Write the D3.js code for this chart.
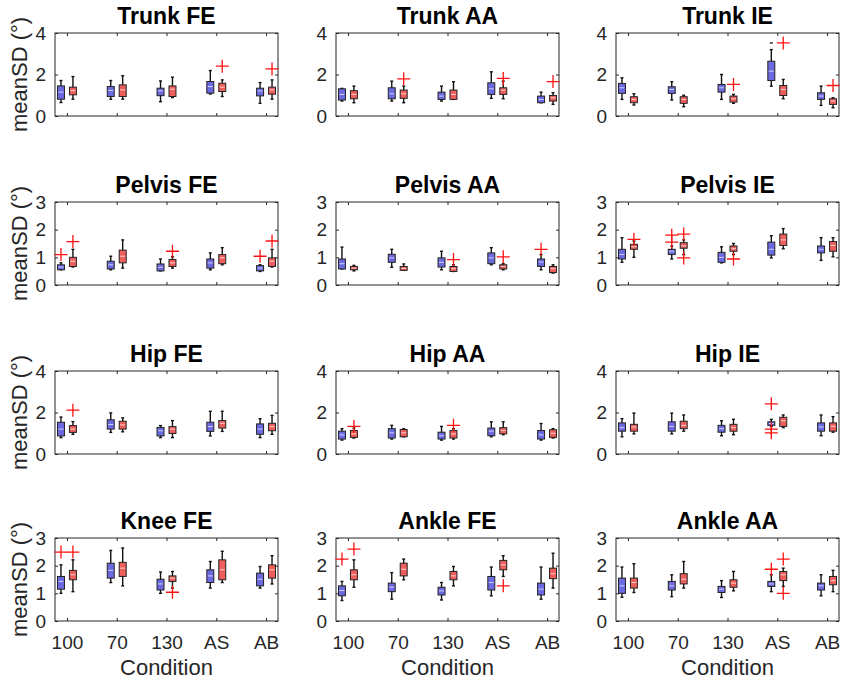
<!DOCTYPE html>
<html>
<head>
<meta charset="utf-8">
<script src="https://cdn.jsdelivr.net/npm/d3@7"></script>
<style>
  body { margin: 0; background: #fff; }
  svg { display: block; font-family: Arial, "Liberation Sans", Helvetica, sans-serif; }
</style>
</head>
<body>
<svg id="chart" width="843" height="685"></svg>
<script>
// Conditions on the x axis
const conditions = ["100", "70", "130", "AS", "AB"];

const panelTitles = [
  "Trunk FE", "Trunk AA", "Trunk IE",
  "Pelvis FE", "Pelvis AA", "Pelvis IE",
  "Hip FE", "Hip AA", "Hip IE",
  "Knee FE", "Ankle FE", "Ankle AA"
];
const panelYMax = [4, 4, 4, 3, 3, 3, 4, 4, 4, 3, 3, 3];
const yTicks4 = [0, 2, 4];
const yTicks3 = [0, 1, 2, 3];

// Box statistics, ordered 100 (blue, red), 70 (blue, red), 130, AS, AB.
// Each row: [lower whisker, Q1, median, Q3, upper whisker]
const trunkFE = [
  [0.65, 0.81, 1.15, 1.45, 1.71], [0.81, 1.02, 1.23, 1.39, 1.90],
  [0.81, 0.94, 1.23, 1.42, 1.71], [0.81, 0.94, 1.26, 1.50, 1.94],
  [0.69, 0.98, 1.21, 1.34, 1.69], [0.89, 0.94, 1.29, 1.45, 1.87],
  [1.06, 1.10, 1.42, 1.66, 2.19], [0.94, 1.18, 1.39, 1.58, 1.74],
  [0.61, 0.97, 1.21, 1.34, 1.61], [0.81, 1.05, 1.26, 1.39, 1.74]
];
const trunkAA = [
  [0.72, 0.77, 1.04, 1.31, 1.33], [0.64, 0.83, 1.04, 1.22, 1.44],
  [0.72, 0.83, 1.07, 1.36, 1.68], [0.64, 0.85, 1.07, 1.25, 1.44],
  [0.72, 0.80, 0.96, 1.15, 1.44], [0.80, 0.80, 1.04, 1.25, 1.65],
  [0.85, 1.04, 1.31, 1.60, 2.13], [0.83, 1.04, 1.25, 1.36, 1.68],
  [0.64, 0.64, 0.80, 0.96, 1.15], [0.56, 0.72, 0.88, 0.99, 1.12]
];
const trunkIE = [
  [0.80, 1.09, 1.36, 1.57, 1.84], [0.53, 0.64, 0.80, 0.93, 1.07],
  [0.77, 1.09, 1.28, 1.41, 1.65], [0.45, 0.61, 0.80, 0.93, 1.00],
  [0.80, 1.15, 1.36, 1.52, 2.00], [0.61, 0.67, 0.83, 0.96, 1.04],
  [1.44, 1.71, 2.16, 2.64, 3.20], [0.83, 0.99, 1.28, 1.47, 1.76],
  [0.51, 0.80, 0.96, 1.12, 1.44], [0.40, 0.56, 0.72, 0.83, 0.88]
];
const pelvisFE = [
  [0.55, 0.55, 0.65, 0.73, 0.80], [0.65, 0.67, 0.86, 1.00, 1.29],
  [0.55, 0.58, 0.73, 0.86, 1.04], [0.61, 0.80, 1.04, 1.26, 1.63],
  [0.51, 0.51, 0.64, 0.76, 0.94], [0.61, 0.67, 0.80, 0.92, 1.02],
  [0.55, 0.61, 0.80, 0.94, 1.16], [0.73, 0.77, 0.98, 1.10, 1.35],
  [0.49, 0.51, 0.61, 0.70, 0.73], [0.65, 0.67, 0.86, 0.98, 1.29]
];
const pelvisAA = [
  [0.58, 0.58, 0.77, 0.94, 1.37], [0.51, 0.55, 0.61, 0.67, 0.71],
  [0.64, 0.82, 0.98, 1.11, 1.29], [0.53, 0.53, 0.60, 0.67, 0.76],
  [0.55, 0.65, 0.82, 0.98, 1.22], [0.49, 0.49, 0.59, 0.67, 0.73],
  [0.73, 0.77, 0.98, 1.16, 1.35], [0.55, 0.58, 0.67, 0.73, 0.77],
  [0.55, 0.67, 0.83, 0.94, 1.10], [0.43, 0.45, 0.59, 0.67, 0.73]
];
const pelvisIE = [
  [0.82, 0.94, 1.10, 1.29, 1.71], [1.00, 1.29, 1.38, 1.47, 1.59],
  [0.94, 1.10, 1.22, 1.29, 1.41], [1.10, 1.33, 1.41, 1.53, 1.63],
  [0.80, 0.82, 1.00, 1.18, 1.38], [1.10, 1.22, 1.31, 1.41, 1.50],
  [0.98, 1.08, 1.29, 1.55, 1.78], [1.31, 1.43, 1.63, 1.84, 2.04],
  [0.89, 1.16, 1.29, 1.41, 1.71], [1.02, 1.22, 1.43, 1.57, 1.71]
];
const hipFE = [
  [0.79, 0.87, 1.20, 1.53, 1.78], [0.95, 1.04, 1.20, 1.37, 1.56],
  [1.04, 1.20, 1.42, 1.65, 1.98], [1.07, 1.20, 1.40, 1.58, 1.74],
  [0.79, 0.87, 1.12, 1.28, 1.37], [0.79, 0.99, 1.20, 1.32, 1.61],
  [0.87, 1.09, 1.32, 1.53, 2.06], [1.09, 1.25, 1.48, 1.61, 2.06],
  [0.79, 0.95, 1.20, 1.45, 1.70], [0.95, 1.12, 1.32, 1.48, 1.86]
];
const hipAA = [
  [0.67, 0.72, 0.92, 1.10, 1.22], [0.77, 0.80, 0.97, 1.13, 1.25],
  [0.72, 0.77, 1.02, 1.22, 1.38], [0.83, 0.83, 1.02, 1.18, 1.22],
  [0.67, 0.72, 0.88, 1.05, 1.33], [0.72, 0.77, 0.97, 1.13, 1.22],
  [0.83, 0.88, 1.10, 1.25, 1.55], [0.93, 0.97, 1.13, 1.27, 1.55],
  [0.67, 0.72, 0.92, 1.13, 1.47], [0.77, 0.80, 1.00, 1.17, 1.22]
];
const hipIE = [
  [0.83, 1.10, 1.27, 1.50, 1.70], [0.97, 1.10, 1.30, 1.43, 1.97],
  [0.97, 1.10, 1.33, 1.55, 1.97], [1.10, 1.22, 1.38, 1.58, 1.88],
  [0.88, 1.05, 1.22, 1.38, 1.60], [0.93, 1.10, 1.27, 1.43, 1.67],
  [1.33, 1.38, 1.47, 1.55, 1.67], [1.27, 1.33, 1.60, 1.77, 1.88],
  [0.88, 1.10, 1.30, 1.50, 1.88], [1.05, 1.10, 1.33, 1.50, 1.80]
];
const kneeFE = [
  [1.00, 1.15, 1.43, 1.61, 2.03], [1.06, 1.49, 1.67, 1.83, 2.21],
  [1.39, 1.55, 1.83, 2.09, 2.55], [1.27, 1.61, 1.91, 2.12, 2.64],
  [1.00, 1.12, 1.34, 1.51, 1.77], [1.19, 1.43, 1.55, 1.63, 1.79],
  [1.19, 1.39, 1.63, 1.85, 2.15], [1.39, 1.49, 1.85, 2.21, 2.52],
  [1.19, 1.27, 1.51, 1.73, 1.97], [1.34, 1.55, 1.85, 2.03, 2.36]
];
const ankleFE = [
  [0.74, 0.91, 1.10, 1.27, 1.43], [1.22, 1.49, 1.67, 1.85, 2.21],
  [0.79, 1.06, 1.22, 1.37, 1.75], [1.49, 1.63, 1.87, 2.09, 2.24],
  [0.76, 0.94, 1.09, 1.22, 1.39], [1.27, 1.49, 1.63, 1.79, 1.97],
  [0.91, 1.12, 1.39, 1.61, 1.95], [1.61, 1.85, 2.03, 2.19, 2.36],
  [0.79, 0.94, 1.15, 1.37, 1.95], [1.19, 1.53, 1.71, 1.91, 2.45]
];
const ankleAA = [
  [0.86, 1.00, 1.27, 1.55, 1.95], [1.03, 1.19, 1.39, 1.55, 2.07],
  [0.88, 1.12, 1.27, 1.43, 1.67], [1.19, 1.34, 1.51, 1.71, 2.15],
  [0.85, 1.03, 1.15, 1.25, 1.46], [1.09, 1.22, 1.37, 1.49, 1.79],
  [1.06, 1.25, 1.34, 1.43, 1.67], [1.25, 1.46, 1.67, 1.79, 1.91],
  [0.91, 1.12, 1.27, 1.37, 1.67], [1.06, 1.31, 1.46, 1.61, 1.83]
];

// Outliers: [condition index, group (0 blue, 1 red), value, symbol]
const trunkFEOut = [[3, 1, 2.40], [4, 1, 2.27]];
const trunkAAOut = [[1, 1, 1.79], [3, 1, 1.81], [4, 1, 1.66]];
const trunkIEOut = [[2, 1, 1.52], [3, 0, 3.52, "-"], [3, 1, 3.52], [4, 1, 1.47]];
const pelvisFEOut = [[0, 0, 1.10], [0, 1, 1.57], [2, 1, 1.22], [4, 0, 1.04], [4, 1, 1.59]];
const pelvisAAOut = [[2, 1, 0.92], [3, 1, 1.02], [4, 0, 1.29]];
const pelvisIEOut = [[0, 1, 1.65], [1, 0, 1.80], [1, 0, 1.55], [1, 1, 1.84], [1, 1, 0.98], [2, 1, 0.94]];
const hipFEOut = [[0, 1, 2.11]];
const hipAAOut = [[0, 1, 1.33], [2, 1, 1.38]];
const hipIEOut = [[3, 0, 2.42], [3, 0, 1.20], [3, 0, 1.02]];
const kneeFEOut = [[0, 0, 2.49], [0, 1, 2.49], [2, 1, 1.04]];
const ankleFEOut = [[0, 0, 2.24], [0, 1, 2.60], [3, 1, 1.27]];
const ankleAAOut = [[3, 0, 1.87], [3, 1, 2.24], [3, 1, 1.00]];

const panelBoxes = [trunkFE, trunkAA, trunkIE, pelvisFE, pelvisAA, pelvisIE,
                    hipFE, hipAA, hipIE, kneeFE, ankleFE, ankleAA];
const panelOutliers = [trunkFEOut, trunkAAOut, trunkIEOut, pelvisFEOut, pelvisAAOut, pelvisIEOut,
                       hipFEOut, hipAAOut, hipIEOut, kneeFEOut, ankleFEOut, ankleAAOut];

// Layout
const colLeft = [55, 336, 616];
const rowTop = [33, 202, 371, 538];
const axW = 223, axH = 83;
const groupOffset = [-0.12, 0.12];
const boxHalf = 0.07;
const fills = ["#6c6ae0", "#ee5f5c"];
const medians = ["#cfd0ff", "#ffd2d0"];
const axisColor = "#262626";

const svg = d3.select("#chart");

panelTitles.forEach((title, p) => {
  const r = Math.floor(p / 3), c = p % 3;
  const left = colLeft[c], top = rowTop[r];
  const yMax = panelYMax[p];
  const ticks = yMax === 4 ? yTicks4 : yTicks3;

  const x = d3.scaleLinear().domain([0.76, 5.24]).range([left, left + axW]);
  const y = d3.scaleLinear().domain([0, yMax]).range([top + axH, top]);

  const g = svg.append("g");

  // Frame
  g.append("rect")
    .attr("x", left).attr("y", top).attr("width", axW).attr("height", axH)
    .attr("fill", "#fff").attr("stroke", axisColor).attr("stroke-width", 1);

  // Y ticks (left + right, inward) with labels on the left
  const yAxisL = d3.axisLeft(y).tickValues(ticks).tickSize(-3).tickPadding(9).tickFormat(d3.format("d"));
  const yAxisR = d3.axisRight(y).tickValues(ticks).tickSize(-3).tickFormat("");
  const gl = g.append("g").attr("transform", `translate(${left},0)`).call(yAxisL);
  const gr = g.append("g").attr("transform", `translate(${left + axW},0)`).call(yAxisR);

  // X ticks (bottom + top, inward); labels only on the bottom row
  const xAxisB = d3.axisBottom(x).tickValues([1, 2, 3, 4, 5]).tickSize(-3).tickPadding(15)
    .tickFormat(r === 3 ? (d => conditions[d - 1]) : "");
  const xAxisT = d3.axisTop(x).tickValues([1, 2, 3, 4, 5]).tickSize(-3).tickFormat("");
  const gb = g.append("g").attr("transform", `translate(0,${top + axH})`).call(xAxisB);
  const gt = g.append("g").attr("transform", `translate(0,${top})`).call(xAxisT);

  [gl, gr, gb, gt].forEach(a => {
    a.select(".domain").remove();
    a.selectAll(".tick line").attr("stroke", axisColor);
    a.selectAll(".tick text").attr("fill", axisColor)
      .style("font-size", "19px").style("font-family", "Arial, 'Liberation Sans', sans-serif");
  });

  // Boxes
  const boxes = panelBoxes[p].map((s, i) => ({
    cond: Math.floor(i / 2), grp: i % 2, lo: s[0], q1: s[1], med: s[2], q3: s[3], hi: s[4]
  }));
  const bg = g.selectAll("g.box").data(boxes).join("g").attr("class", "box");
  const pos = d => d.cond + 1 + groupOffset[d.grp];

  bg.append("line")
    .attr("x1", d => x(pos(d))).attr("x2", d => x(pos(d)))
    .attr("y1", d => y(d.hi)).attr("y2", d => y(d.lo))
    .attr("stroke", "#111").attr("stroke-width", 1.4);
  bg.append("line")
    .attr("x1", d => x(pos(d)) - 1.5).attr("x2", d => x(pos(d)) + 1.5)
    .attr("y1", d => y(d.hi)).attr("y2", d => y(d.hi))
    .attr("stroke", "#111").attr("stroke-width", 1.4);
  bg.append("line")
    .attr("x1", d => x(pos(d)) - 1.5).attr("x2", d => x(pos(d)) + 1.5)
    .attr("y1", d => y(d.lo)).attr("y2", d => y(d.lo))
    .attr("stroke", "#111").attr("stroke-width", 1.4);
  bg.append("rect")
    .attr("x", d => x(pos(d) - boxHalf)).attr("width", d => x(pos(d) + boxHalf) - x(pos(d) - boxHalf))
    .attr("y", d => y(d.q3)).attr("height", d => y(d.q1) - y(d.q3))
    .attr("fill", d => fills[d.grp]).attr("stroke", "#222").attr("stroke-width", 1);
  bg.append("line")
    .attr("x1", d => x(pos(d) - boxHalf) + 1).attr("x2", d => x(pos(d) + boxHalf) - 1)
    .attr("y1", d => y(d.med)).attr("y2", d => y(d.med))
    .attr("stroke", d => medians[d.grp]).attr("stroke-width", 1);

  // Outliers
  const outs = panelOutliers[p].map(o => ({ cond: o[0], grp: o[1], v: o[2], sym: o[3] || "+" }));
  const og = g.selectAll("g.out").data(outs).join("g").attr("class", "out")
    .attr("transform", d => `translate(${x(pos(d))},${y(d.v)})`);
  og.filter(d => d.sym === "+").append("path")
    .attr("d", "M-6.5,0H6.5M0,-6.5V6.5")
    .attr("stroke", "#ff1010").attr("stroke-width", 1.3).attr("fill", "none");
  og.filter(d => d.sym === "-").append("path")
    .attr("d", "M-1.5,0H1.5")
    .attr("stroke", "#222").attr("stroke-width", 1.4);

  // Title
  g.append("text")
    .attr("x", left + axW / 2).attr("y", top - 9)
    .attr("text-anchor", "middle")
    .style("font-size", "23px").style("font-weight", "bold").attr("fill", "#000")
    .text(title);

  // Axis labels
  if (c === 0) {
    g.append("text")
      .attr("transform", `translate(27,${top + axH / 2}) rotate(-90)`)
      .attr("text-anchor", "middle")
      .style("font-size", "22px").attr("fill", axisColor)
      .text("meanSD (°)");
  }
  if (r === 3) {
    g.append("text")
      .attr("x", left + axW / 2).attr("y", top + axH + 54)
      .attr("text-anchor", "middle")
      .style("font-size", "22px").attr("fill", axisColor)
      .text("Condition");
  }
});
</script>
</body>
</html>
